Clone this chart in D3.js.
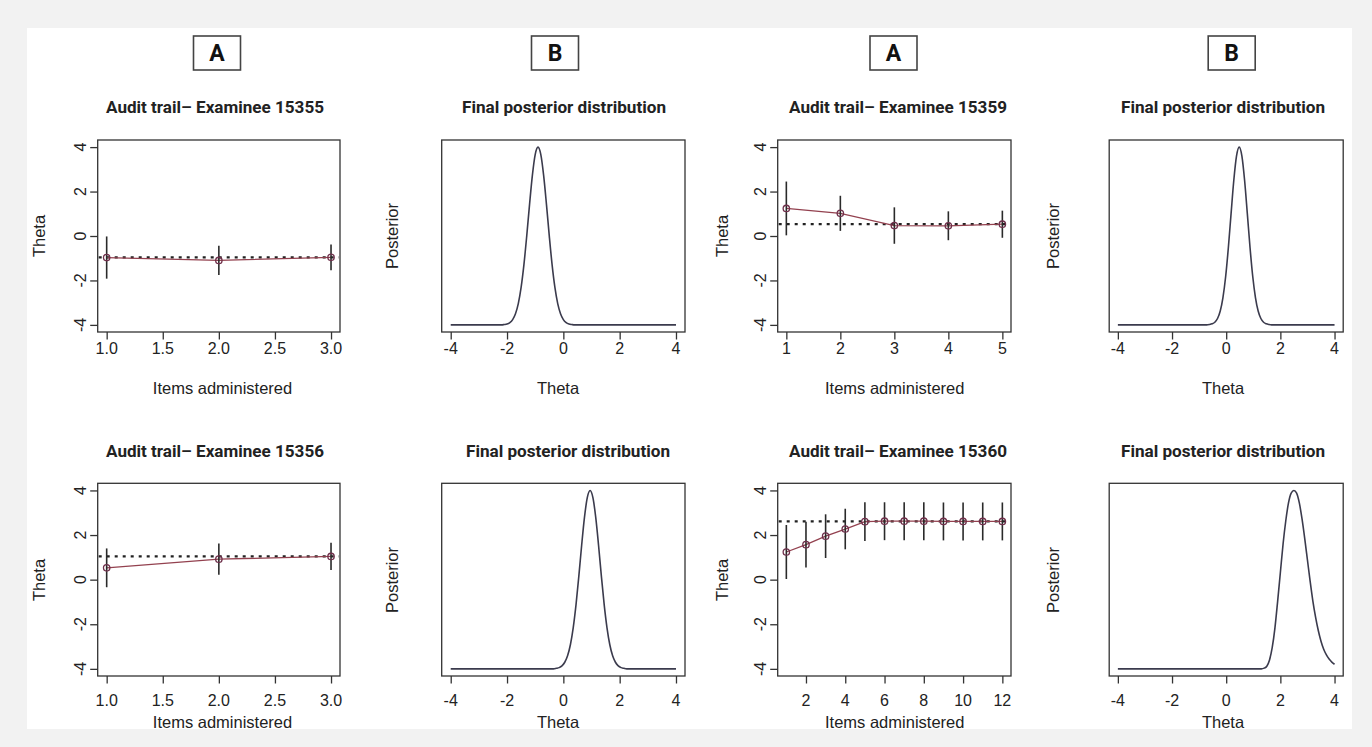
<!DOCTYPE html>
<html><head><meta charset="utf-8">
<script src="https://cdn.jsdelivr.net/npm/d3@7"></script>
<style>
html,body{margin:0;padding:0;background:#f2f2f2;}
svg{display:block;}
</style></head>
<body>
<svg id="chart" width="1372" height="747"></svg>
<script>
// ---------------- DATA ----------------
const itemsAxisTicks3 = [1.0, 1.5, 2.0, 2.5, 3.0];
const itemsAxisTicks5 = [1, 2, 3, 4, 5];
const itemsAxisTicks12 = [2, 4, 6, 8, 10, 12];
const thetaTicks = [-4, -2, 0, 2, 4];

const items15355 = [1, 2, 3];
const theta15355 = [-0.97, -1.10, -0.96];
const se15355 = [0.95, 0.66, 0.58];
const final15355 = -0.96;

const items15356 = [1, 2, 3];
const theta15356 = [0.53, 0.92, 1.04];
const se15356 = [0.87, 0.70, 0.61];
const final15356 = 1.04;

const items15359 = [1, 2, 3, 4, 5];
const theta15359 = [1.24, 1.02, 0.47, 0.46, 0.53];
const se15359 = [1.21, 0.79, 0.82, 0.65, 0.61];
const final15359 = 0.53;

const items15360 = [1, 2, 3, 4, 5, 6, 7, 8, 9, 10, 11, 12];
const theta15360 = [1.24, 1.57, 1.95, 2.27, 2.60, 2.62, 2.62, 2.62, 2.61, 2.61, 2.61, 2.61];
const se15360 = [1.21, 1.03, 0.98, 0.91, 0.87, 0.85, 0.85, 0.85, 0.85, 0.85, 0.85, 0.85];
const final15360 = 2.61;

// posterior curves: [theta, relative density]
const post15355 = [[-4,0],[-2.2,0],[-2.1,0.002],[-2.0,0.005],[-1.9,0.013],[-1.8,0.03],[-1.7,0.063],[-1.6,0.12],[-1.5,0.211],[-1.4,0.339],[-1.3,0.501],[-1.2,0.678],[-1.1,0.841],[-1.0,0.958],[-0.9,1],[-0.8,0.958],[-0.7,0.841],[-0.6,0.678],[-0.5,0.501],[-0.4,0.339],[-0.3,0.211],[-0.2,0.12],[-0.1,0.063],[0,0.03],[0.1,0.013],[0.2,0.005],[0.3,0.002],[0.4,0],[4,0]];
const post15356 = [[-4,0],[-0.35,0],[-0.25,0.003],[-0.15,0.007],[-0.05,0.017],[0.05,0.037],[0.15,0.073],[0.25,0.135],[0.35,0.23],[0.45,0.36],[0.55,0.52],[0.65,0.693],[0.75,0.849],[0.85,0.96],[0.95,1],[1.05,0.96],[1.15,0.849],[1.25,0.693],[1.35,0.52],[1.45,0.36],[1.55,0.23],[1.65,0.135],[1.75,0.073],[1.85,0.037],[1.95,0.017],[2.05,0.007],[2.15,0.003],[2.25,0],[4,0]];
const post15359 = [[-4,0],[-0.72,0],[-0.62,0.002],[-0.52,0.006],[-0.42,0.015],[-0.32,0.036],[-0.22,0.078],[-0.12,0.154],[-0.02,0.272],[0.08,0.435],[0.18,0.626],[0.28,0.812],[0.38,0.949],[0.48,1],[0.58,0.949],[0.68,0.812],[0.78,0.626],[0.88,0.435],[0.98,0.272],[1.08,0.154],[1.18,0.078],[1.28,0.036],[1.38,0.015],[1.48,0.006],[1.58,0.002],[1.68,0],[4,0]];
const post15360 = [[-4,0],[1.3,0],[1.4,0.004],[1.5,0.015],[1.6,0.05],[1.7,0.12],[1.8,0.23],[1.9,0.38],[2.0,0.54],[2.1,0.7],[2.2,0.83],[2.3,0.93],[2.4,0.985],[2.5,1.0],[2.6,0.985],[2.7,0.93],[2.8,0.84],[2.9,0.73],[3.0,0.61],[3.1,0.49],[3.2,0.38],[3.3,0.29],[3.4,0.215],[3.5,0.155],[3.6,0.11],[3.7,0.078],[3.8,0.055],[3.9,0.038],[4.0,0.026]];

const panelTags = ["A", "B", "A", "B"];
const auditTitlePrefix = "Audit trail\u2013 Examinee ";
const postTitle = "Final posterior distribution";

// ---------------- LAYOUT ----------------
const svg = d3.select("#chart");
const W = 1372, H = 747;
svg.append("rect").attr("x", 0).attr("y", 0).attr("width", W).attr("height", H).attr("fill", "#f2f2f2");
svg.append("rect").attr("x", 27).attr("y", 28).attr("width", 1325).attr("height", 701).attr("fill", "#ffffff");

const cols = [
  {x0: 97.7, x1: 340, ylabX: 38.5, ytickX: 80, xlabX: 222.5, tagX: 217, titleX: [215, 215]},
  {x0: 441.7, x1: 685, ylabX: 391.7, xlabX: 558, tagX: 555, titleX: [564, 568]},
  {x0: 777.7, x1: 1011, ylabX: 721.7, ytickX: 760, xlabX: 894.7, tagX: 893.5, titleX: [898, 898]},
  {x0: 1109.2, x1: 1343.2, ylabX: 1053, xlabX: 1223, tagX: 1231.7, titleX: [1223, 1223]}
];
const rows = [
  {y0: 140, y1: 332, titleY: 107, xtickY: 348.5, xlabY: 388, ylabY: 236},
  {y0: 483.3, y1: 676, titleY: 451.5, xtickY: 700, xlabY: 722, ylabY: 580}
];

const tickFont = "'Liberation Sans', Arial, Helvetica, sans-serif";
const titleFont = "Roboto, 'Open Sans', sans-serif";
const ink = "#333";

function pad(lo, hi) { const d = (hi - lo) * 0.04; return [lo - d, hi + d]; }

// Tags A/B
cols.forEach((c, i) => {
  const g = svg.append("g");
  g.append("rect").attr("x", c.tagX - 23.5).attr("y", 36).attr("width", 47).attr("height", 34)
    .attr("fill", "#fff").attr("stroke", "#444").attr("stroke-width", 1.6);
  g.append("text").attr("x", c.tagX).attr("y", 53.5).attr("text-anchor", "middle")
    .attr("dominant-baseline", "central").attr("font-family", titleFont).attr("font-weight", 700)
    .attr("font-size", 23).attr("fill", "#111").text(panelTags[i]);
});

function frame(g, c, r) {
  g.append("rect").attr("x", c.x0).attr("y", r.y0).attr("width", c.x1 - c.x0).attr("height", r.y1 - r.y0)
    .attr("fill", "none").attr("stroke", ink).attr("stroke-width", 1.3);
}

function title(g, txt, x, y, w) {
  g.append("text").attr("x", x).attr("y", y).attr("text-anchor", "middle").attr("dominant-baseline", "central")
    .attr("font-family", titleFont).attr("font-weight", 700).attr("font-size", 16.5).attr("fill", "#222")
    .attr("textLength", w).attr("lengthAdjust", "spacingAndGlyphs").text(txt);
}

function xAxis(g, x, r, ticks, fmt) {
  g.append("g").attr("transform", `translate(0,${r.y1})`)
    .call(d3.axisBottom(x).tickValues(ticks).tickSize(7.5).tickSizeOuter(0).tickFormat(""))
    .call(s => s.select(".domain").remove())
    .call(s => s.selectAll("line").attr("stroke", ink).attr("stroke-width", 1.3));
  g.selectAll(null).data(ticks).enter().append("text")
    .attr("x", d => x(d)).attr("y", r.xtickY).attr("text-anchor", "middle").attr("dominant-baseline", "central")
    .attr("font-family", tickFont).attr("font-size", 16).attr("fill", "#222").text(d => fmt(d));
}

function yAxis(g, y, c, ticks) {
  g.append("g").attr("transform", `translate(${c.x0},0)`)
    .call(d3.axisLeft(y).tickValues(ticks).tickSize(7.5).tickSizeOuter(0).tickFormat(""))
    .call(s => s.select(".domain").remove())
    .call(s => s.selectAll("line").attr("stroke", ink).attr("stroke-width", 1.3));
  g.selectAll(null).data(ticks).enter().append("text")
    .attr("transform", d => `translate(${c.ytickX},${y(d)}) rotate(-90)`)
    .attr("text-anchor", "middle").attr("dominant-baseline", "central")
    .attr("font-family", tickFont).attr("font-size", 16).attr("fill", "#222").text(d => d);
}

function label(g, txt, x, y, rot) {
  g.append("text").attr("transform", `translate(${x},${y})` + (rot ? " rotate(-90)" : ""))
    .attr("text-anchor", "middle").attr("dominant-baseline", "central")
    .attr("font-family", tickFont).attr("font-size", 16.5).attr("fill", "#222").text(txt);
}

function drawAudit(ci, ri, id, items, theta, se, final, ticks, fmt) {
  const c = cols[ci], r = rows[ri];
  const g = svg.append("g");
  const x = d3.scaleLinear().domain(pad(1, d3.max(items))).range([c.x0, c.x1]);
  const y = d3.scaleLinear().domain(pad(-4, 4)).range([r.y1, r.y0]);
  const pts = items.map((it, i) => ({x: it, t: theta[i], s: se[i]}));
  // final estimate (dotted)
  g.append("line").attr("x1", c.x0 + 1).attr("x2", c.x1 - 1).attr("y1", y(final)).attr("y2", y(final))
    .attr("stroke", "#222").attr("stroke-width", 2.2).attr("stroke-dasharray", "3,5");
  // trail
  g.append("path").datum(pts).attr("fill", "none").attr("stroke", "#93414f").attr("stroke-width", 1.3)
    .attr("d", d3.line().x(d => x(d.x)).y(d => y(d.t)));
  // error bars
  g.selectAll(null).data(pts).enter().append("line")
    .attr("x1", d => x(d.x)).attr("x2", d => x(d.x))
    .attr("y1", d => y(d.t - d.s)).attr("y2", d => y(d.t + d.s))
    .attr("stroke", "#2a2a2a").attr("stroke-width", 1.6);
  // points
  g.selectAll(null).data(pts).enter().append("circle")
    .attr("cx", d => x(d.x)).attr("cy", d => y(d.t)).attr("r", 3.2)
    .attr("fill", "none").attr("stroke", "#6e2f4a").attr("stroke-width", 1.3);
  frame(g, c, r);
  xAxis(g, x, r, ticks, fmt);
  yAxis(g, y, c, thetaTicks);
  title(g, auditTitlePrefix + id, c.titleX[ri], r.titleY, 218);
  label(g, "Theta", c.ylabX, r.ylabY, true);
  label(g, "Items administered", c.xlabX, r.xlabY, false);
}

function drawPost(ci, ri, post) {
  const c = cols[ci], r = rows[ri];
  const g = svg.append("g");
  const x = d3.scaleLinear().domain(pad(-4, 4)).range([c.x0, c.x1]);
  const y = d3.scaleLinear().domain(pad(0, d3.max(post, d => d[1]))).range([r.y1, r.y0]);
  g.append("path").datum(post).attr("fill", "none").attr("stroke", "#3b3b4d").attr("stroke-width", 1.6)
    .attr("d", d3.line().x(d => x(d[0])).y(d => y(d[1])).curve(d3.curveMonotoneX));
  frame(g, c, r);
  xAxis(g, x, r, thetaTicks, d => d);
  title(g, postTitle, c.titleX[ri], r.titleY, 204);
  label(g, "Posterior", c.ylabX, r.ylabY, true);
  label(g, "Theta", c.xlabX, r.xlabY, false);
}

const f1 = d3.format(".1f");
const f0 = d => d;
drawAudit(0, 0, "15355", items15355, theta15355, se15355, final15355, itemsAxisTicks3, f1);
drawPost(1, 0, post15355);
drawAudit(2, 0, "15359", items15359, theta15359, se15359, final15359, itemsAxisTicks5, f0);
drawPost(3, 0, post15359);
drawAudit(0, 1, "15356", items15356, theta15356, se15356, final15356, itemsAxisTicks3, f1);
drawPost(1, 1, post15356);
drawAudit(2, 1, "15360", items15360, theta15360, se15360, final15360, itemsAxisTicks12, f0);
drawPost(3, 1, post15360);
</script>
</body></html>
